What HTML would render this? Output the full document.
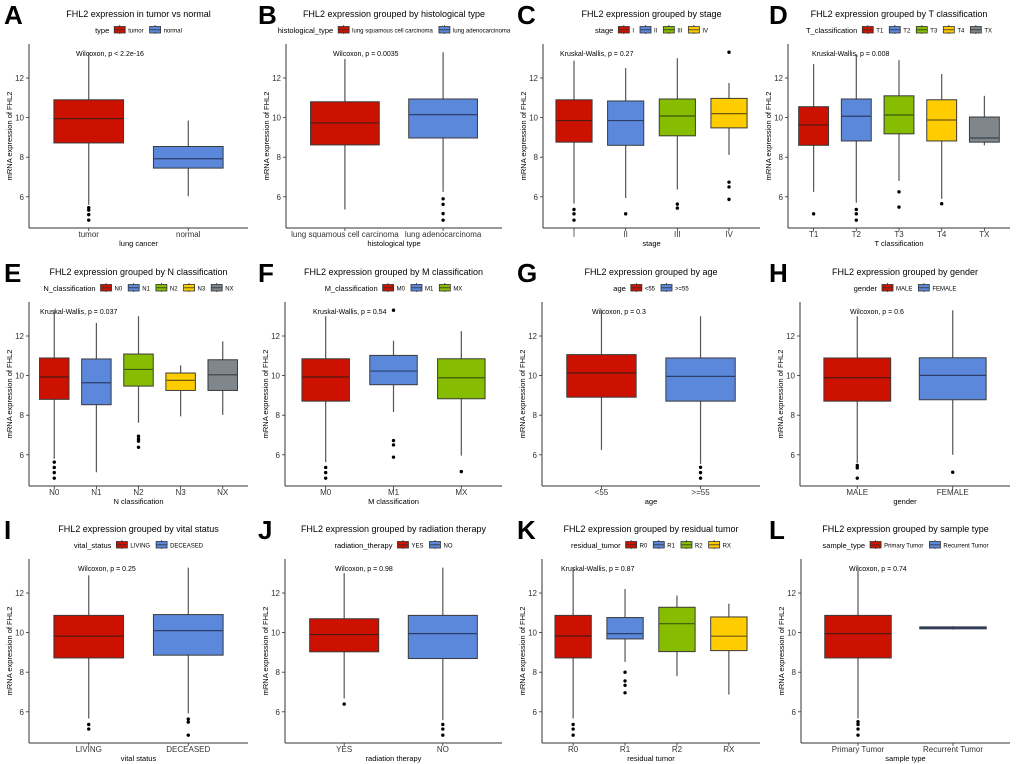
<!DOCTYPE html>
<html><head><meta charset="utf-8">
<style>
html,body{margin:0;padding:0;background:#fff;}
svg{display:block;font-family:"Liberation Sans",Arial,sans-serif;}
</style></head>
<body>
<svg id="fig" width="1020" height="764" viewBox="0 0 1020 764"></svg>
<script>
// ---- data (values on the mRNA expression scale) ----
const categories = [
 ["tumor","normal"],
 ["lung squamous cell carcinoma","lung adenocarcinoma"],
 ["I","II","III","IV"],
 ["T1","T2","T3","T4","TX"],
 ["N0","N1","N2","N3","NX"],
 ["M0","M1","MX"],
 ["<55",">=55"],
 ["MALE","FEMALE"],
 ["LIVING","DECEASED"],
 ["YES","NO"],
 ["R0","R1","R2","RX"],
 ["Primary Tumor","Recurrent Tumor"]
];
const whiskerLow = [
 [5.6,6.03],[5.36,6.25],[5.66,5.94,6.37,8.12],[6.25,5.7,6.8,5.9,8.6],
 [5.8,5.12,7.62,7.94,8.02],[5.63,8.16,5.96],[6.25,5.54],[5.59,6.0],
 [5.66,5.92],[6.67,5.58],[5.66,8.52,7.8,6.87],[5.66,10.15]
];
const q1Values = [
 [8.72,7.45],[8.62,8.97],[8.76,8.6,9.08,9.48],[8.6,8.82,9.18,8.82,8.76],
 [8.8,8.53,9.47,9.25,9.25],[8.71,9.54,8.83],[8.91,8.71],[8.71,8.78],
 [8.72,8.86],[9.03,8.69],[8.72,9.68,9.04,9.09],[8.72,10.19]
];
const medianValues = [
 [9.95,7.92],[9.73,10.15],[9.85,9.85,10.08,10.2],[9.63,10.07,10.13,9.88,8.97],
 [9.93,9.64,10.31,9.76,10.04],[9.93,10.23,9.89],[10.13,9.96],[9.89,10.01],
 [9.82,10.1],[9.9,9.95],[9.83,9.95,10.45,9.82],[9.95,10.24]
];
const q3Values = [
 [10.9,8.54],[10.8,10.94],[10.9,10.84,10.94,10.97],[10.55,10.94,11.1,10.9,10.03],
 [10.89,10.84,11.09,10.13,10.8],[10.85,11.02,10.85],[11.06,10.89],[10.89,10.9],
 [10.87,10.91],[10.7,10.87],[10.87,10.76,11.28,10.79],[10.87,10.29]
];
const whiskerHigh = [
 [13.3,9.85],[12.96,13.3],[12.87,12.5,13.0,11.75],[12.7,13.2,12.9,12.2,11.1],
 [13.3,12.66,13.0,10.52,11.73],[13.0,11.76,12.24],[13.3,13.0],[13.0,13.3],
 [12.89,13.28],[13.0,13.28],[13.28,12.2,11.87,11.46],[13.28,10.32]
];
const outlierValues = [
 [[5.45,5.33,5.1,4.82],[]],
 [[],[5.9,5.62,5.15,4.82]],
 [[5.36,5.14,4.82],[5.14],[5.63,5.43],[13.3,6.74,6.5,5.87]],
 [[5.14],[5.36,5.14,4.82],[6.25,5.48],[5.65],[]],
 [[5.63,5.36,5.1,4.82],[],[6.94,6.8,6.69,6.38],[],[]],
 [[5.36,5.1,4.82],[13.3,6.72,6.5,5.88],[5.15]],
 [[],[5.37,5.1,4.82]],
 [[5.46,5.34,4.82],[5.12]],
 [[5.36,5.13],[5.63,5.48,4.82]],
 [[6.39],[5.36,5.13,4.82]],
 [[5.36,5.13,4.82],[8.0,7.56,7.34,6.96],[],[]],
 [[5.5,5.36,5.13,4.82],[]]
];
const statLabels = ["Wilcoxon, p < 2.2e-16","Wilcoxon, p = 0.0035","Kruskal-Wallis, p = 0.27","Kruskal-Wallis, p = 0.008",
 "Kruskal-Wallis, p = 0.037","Kruskal-Wallis, p = 0.54","Wilcoxon, p = 0.3","Wilcoxon, p = 0.6",
 "Wilcoxon, p = 0.25","Wilcoxon, p = 0.98","Kruskal-Wallis, p = 0.87","Wilcoxon, p = 0.74"];
const yTicks = [6,8,10,12];

// ---- layout ----
const letters = "ABCDEFGHIJKL".split("");
const titles = ["FHL2 expression in tumor vs normal","FHL2 expression grouped by histological type","FHL2 expression grouped by stage","FHL2 expression grouped by T classification",
 "FHL2 expression grouped by N classification","FHL2 expression grouped by M classification","FHL2 expression grouped by age","FHL2 expression grouped by gender",
 "FHL2 expression grouped by vital status","FHL2 expression grouped by radiation therapy","FHL2 expression grouped by residual tumor","FHL2 expression grouped by sample type"];
const legendTitles = ["type","histological_type","stage","T_classification","N_classification","M_classification","age","gender","vital_status","radiation_therapy","residual_tumor","sample_type"];
const xTitles = ["lung cancer","histological type","stage","T classification","N classification","M classification","age","gender","vital status","radiation therapy","residual tumor","sample type"];
const plotLeft = [29,286,543,788, 29,285,542,800, 29,285,542,801];
const plotRight = [248,502,760,1010, 248,502,760,1010, 248,502,760,1010];
const statX = [76,333,560,812, 40,313,592,850, 78,335,561,849];
const rowOff = [0,258,515];
const letterX = [4,258,517,769];
const palette = ["#cd1100","#5b88db","#86bd00","#ffcc00","#7f878c"];
const outlinePal = ["#4a1a12","#2b3f6a","#3d5a10","#6a5a10","#3a3f44"];

const NS = "http://www.w3.org/2000/svg";
const svg = document.getElementById("fig");
function mk(tag, attrs, parent, text){
  const e = document.createElementNS(NS, tag);
  for (const k in attrs) e.setAttribute(k, attrs[k]);
  if (text !== undefined) e.textContent = text;
  (parent||svg).appendChild(e);
  return e;
}

for (let p = 0; p < 12; p++){
  const row = Math.floor(p/4), col = p%4;
  const off = rowOff[row];
  const L = plotLeft[p], R = plotRight[p];
  const top = off + 44, bottom = off + 228;
  const yScale = v => off + 78 + (12 - v) * 19.8;
  const cats = categories[p];
  const n = cats.length;
  const unit = (R - L) / (n + 0.2);
  const xScale = i => L + (i + 0.6) * unit;
  const g = mk("g", {});
  
  

  const lt = mk("text", {x: letterX[col], y: off + 24, "font-size": 26, "font-weight": "bold", fill: "#000"}, g, letters[p]);
  
  

  const cx = (L + R) / 2;
  const tt = mk("text", {x: cx, y: off + 17, "font-size": 9, "text-anchor": "middle", fill: "#000"}, g, titles[p]);
  
  

  // legend
  const lg = mk("g", {}, g);
  
  
  const ly = off + 33;
  let lx = 0;
  const ltitle = mk("text", {x: 0, y: ly, "font-size": 7.5, fill: "#000"}, lg, legendTitles[p]);
  lx += ltitle.getComputedTextLength() + 4;
  for (let i = 0; i < n; i++){
    const item = mk("g", {}, lg);
    
    
    mk("line", {x1: lx+6.5, x2: lx+6.5, y1: ly-8, y2: ly+1, stroke: "#333", "stroke-width": 0.8}, item);
    mk("rect", {x: lx+1, y: ly-6.5, width: 11, height: 6.5, fill: palette[i], stroke: "#333", "stroke-width": 0.8}, item);
    mk("line", {x1: lx+1, x2: lx+12, y1: ly-3.2, y2: ly-3.2, stroke: "#333", "stroke-width": 0.8}, item);
    const t = mk("text", {x: lx+15, y: ly-0.5, "font-size": 6, fill: "#000"}, item, cats[i]);
    lx += 15 + t.getComputedTextLength() + 5;
  }
  lg.setAttribute("transform", "translate(" + (cx - (lx - 5)/2) + ",0)");

  // axes
  const ax = mk("g", {}, g);
  
  
  mk("line", {x1: L, x2: L, y1: top, y2: bottom, stroke: "#333", "stroke-width": 1}, ax);
  mk("line", {x1: L, x2: R, y1: bottom, y2: bottom, stroke: "#333", "stroke-width": 1}, ax);
  yTicks.forEach(v => {
    const y = yScale(v);
    mk("line", {x1: L-3, x2: L, y1: y, y2: y, stroke: "#333", "stroke-width": 0.8}, ax);
    const tl = mk("text", {x: L-5, y: y+3, "font-size": 8, "text-anchor": "end", fill: "#333"}, ax, String(v));
    
    
  });
  const yt = mk("text", {x: 0, y: 0, "font-size": 7.5, "text-anchor": "middle", fill: "#000",
    transform: "translate(" + (L-17) + "," + ((top+bottom)/2) + ") rotate(-90)"}, ax, "mRNA expression of FHL2");
  
  
  const xt = mk("text", {x: cx, y: off + 246, "font-size": 7.5, "text-anchor": "middle", fill: "#000"}, ax, xTitles[p]);
  
  

  const st = mk("text", {x: statX[p], y: off + 56, "font-size": 7, fill: "#000"}, g, statLabels[p]);
  
  

  // boxes
  const bw = unit * 0.7;
  for (let i = 0; i < n; i++){
    const x = xScale(i);
    mk("line", {x1: x, x2: x, y1: bottom, y2: bottom+3, stroke: "#333", "stroke-width": 0.8}, ax);
    const xl = mk("text", {x: x, y: off + 237, "font-size": 8, "text-anchor": "middle", fill: "#333"}, ax, cats[i]);
    
    

    const bg = mk("g", {}, g);
    
    
    mk("line", {x1: x, x2: x, y1: yScale(whiskerHigh[p][i]), y2: yScale(whiskerLow[p][i]), stroke: "#555", "stroke-width": 1.2}, bg);
    const yq3 = yScale(q3Values[p][i]), yq1 = yScale(q1Values[p][i]);
    mk("rect", {x: x-bw/2, y: yq3, width: bw, height: Math.max(yq1-yq3, 0.5), fill: palette[i], stroke: "#3a3a3a", "stroke-width": 1}, bg);
    const ym = yScale(medianValues[p][i]);
    mk("line", {x1: x-bw/2, x2: x+bw/2, y1: ym, y2: ym, stroke: outlinePal[i], "stroke-width": 1.2}, bg);
    outlierValues[p][i].forEach(v => {
      const c = mk("circle", {cx: x, cy: yScale(v), r: 1.7, fill: "#000"}, bg);
      
      
    });
  }
}
</script>
</body></html>
